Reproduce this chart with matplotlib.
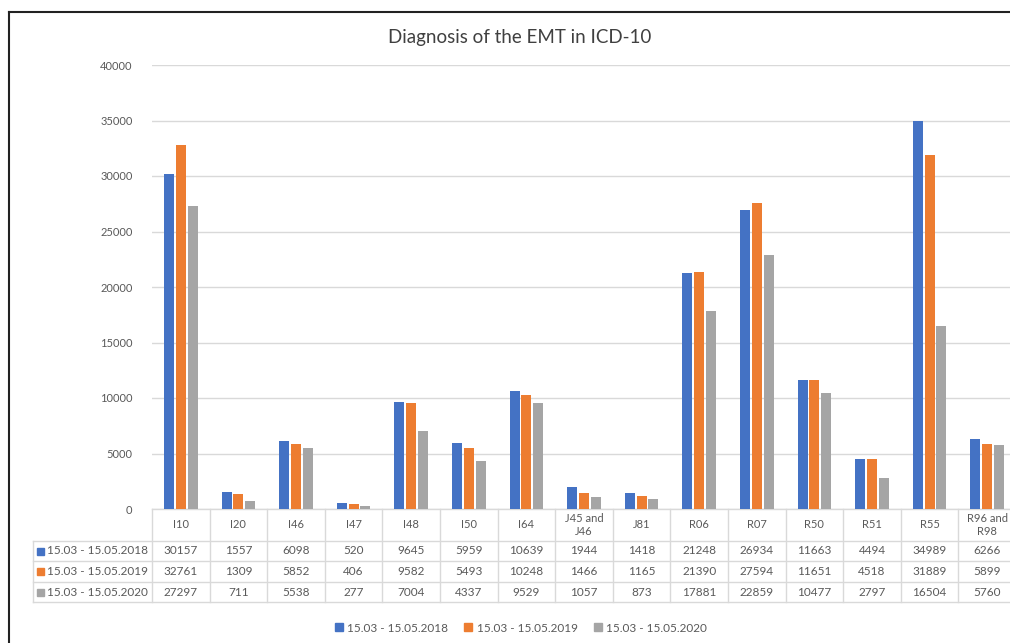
import matplotlib.pyplot as plt
from matplotlib.lines import Line2D
from matplotlib.patches import Rectangle

categories = ["I10", "I20", "I46", "I47", "I48", "I50", "I64", "J45 and\nJ46", "J81",
              "R06", "R07", "R50", "R51", "R55", "R96 and\nR98"]
series_names = ["15.03 - 15.05.2018", "15.03 - 15.05.2019", "15.03 - 15.05.2020"]
values_2018 = [30157, 1557, 6098, 520, 9645, 5959, 10639, 1944, 1418, 21248, 26934, 11663, 4494, 34989, 6266]
values_2019 = [32761, 1309, 5852, 406, 9582, 5493, 10248, 1466, 1165, 21390, 27594, 11651, 4518, 31889, 5899]
values_2020 = [27297, 711, 5538, 277, 7004, 4337, 9529, 1057, 873, 17881, 22859, 10477, 2797, 16504, 5760]
yticks = [0, 5000, 10000, 15000, 20000, 25000, 30000, 35000, 40000]

colors = ["#4472C4", "#ED7D31", "#A5A5A5"]
grid_c = "#D9D9D9"
text_c = "#595959"

plt.rcParams['font.family'] = ['Lato', 'DejaVu Sans']

W, H = 1010, 643
fig = plt.figure(figsize=(W / 100, H / 100), dpi=100)

# figure-pixel helpers
def fx(px):
    return px / W

def fy(py):
    return 1 - py / H

ax_l, ax_r, ax_t, ax_b = 152, 1016, 65, 509
ax = fig.add_axes([fx(ax_l), fy(ax_b), fx(ax_r - ax_l), (ax_b - ax_t) / H])
ax.set_xlim(-0.5, len(categories) - 0.5)
ax.set_ylim(0, 40000)

all_series = [values_2018, values_2019, values_2020]
bw = 0.175
step = 0.205
for i, vals in enumerate(all_series):
    xs = [k + (i - 1) * step for k in range(len(categories))]
    ax.bar(xs, vals, width=bw, color=colors[i], zorder=3)

ax.set_yticks(yticks)
ax.set_yticklabels([str(v) for v in yticks], color=text_c, fontsize=8)
ax.tick_params(axis='y', length=0, pad=14)
ax.tick_params(axis='x', bottom=False, labelbottom=False)
ax.grid(axis='y', color=grid_c, linewidth=1, zorder=0)
for s in ax.spines.values():
    s.set_visible(False)

# data table under the bars
slot_px = (ax_r - ax_l) / len(categories)
label_left = -0.5 - (ax_l - 33) / slot_px
tr = ax.get_xaxis_transform()
h = ax_b - ax_t
row_px = [509, 541, 561, 582, 602]
row_y = [-(p - ax_b) / h for p in row_px]
right = len(categories) - 0.5

def hline(x0, x1, y):
    ax.add_line(Line2D([x0, x1], [y, y], transform=tr, color=grid_c, lw=1, clip_on=False))

def vline(x, y0, y1):
    ax.add_line(Line2D([x, x], [y0, y1], transform=tr, color=grid_c, lw=1, clip_on=False))

hline(-0.5, right, row_y[0])
for y in row_y[1:]:
    hline(label_left, right, y)
vline(label_left, row_y[1], row_y[4])
for k in range(len(categories) + 1):
    vline(k - 0.5, row_y[0], row_y[4])

for k, cat in enumerate(categories):
    ax.text(k, (row_y[0] + row_y[1]) / 2, cat, transform=tr, ha='center', va='center',
            fontsize=8, color=text_c, linespacing=1.3)
    for r, vals in enumerate(all_series):
        ax.text(k, (row_y[r + 1] + row_y[r + 2]) / 2, str(vals[k]), transform=tr,
                ha='center', va='center', fontsize=8.5, color=text_c)

for r, name in enumerate(series_names):
    yc = (row_px[r + 1] + row_px[r + 2]) / 2
    fig.patches.append(Rectangle((fx(37), fy(yc + 3.5)), fx(7), 7 / H, color=colors[r],
                                 transform=fig.transFigure))
    fig.text(fx(47), fy(yc), name, ha='left', va='center', fontsize=8.5, color=text_c)

# legend
legend_items = [Line2D([], [], marker='s', linestyle='none', color=c, markersize=5.5) for c in colors]
fig.legend(legend_items, series_names, loc='center', bbox_to_anchor=(fx(520), fy(628)),
           ncol=3, frameon=False, fontsize=8.5, handletextpad=0.2, columnspacing=1.2,
           handlelength=1.0, labelcolor=text_c)

fig.text(fx(520), fy(37), "Diagnosis of the EMT in ICD-10", ha='center', va='center',
         fontsize=13.5, color="#404040")

# chart frame
fig.add_artist(Line2D([fx(9), fx(9)], [fy(12), fy(H + 5)], transform=fig.transFigure,
                      color="#222222", lw=1.5))
fig.add_artist(Line2D([fx(9), fx(W + 5)], [fy(12), fy(12)], transform=fig.transFigure,
                      color="#222222", lw=1.5))

fig.savefig("out.png", dpi=100)
